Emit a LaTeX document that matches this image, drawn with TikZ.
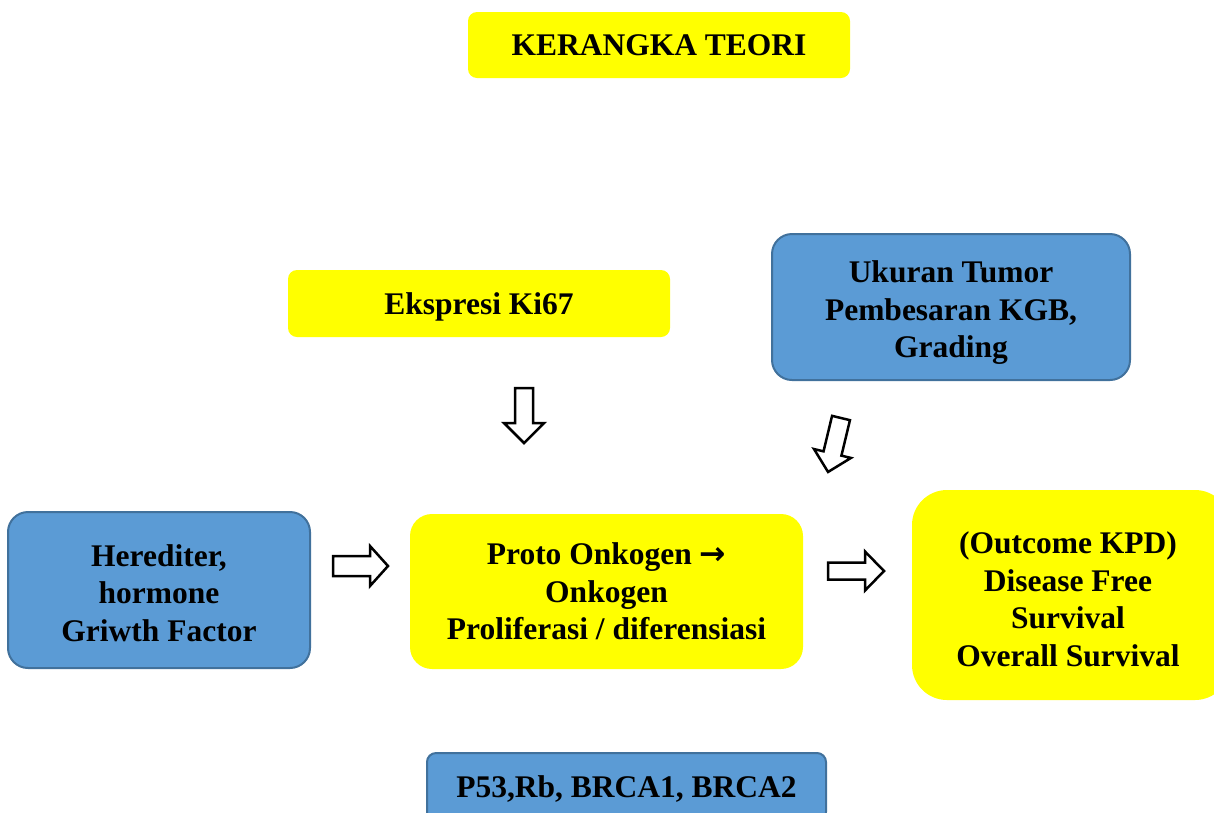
\documentclass[tikz,border=0pt]{standalone}
\usepackage{fontspec}
\setmainfont{Liberation Serif}
\newfontfamily\arrowfont{DejaVu Sans}
\definecolor{ybox}{HTML}{FFFF00}
\definecolor{bbox}{HTML}{5B9BD5}
\definecolor{bline}{HTML}{41719C}
\tikzset{
  txt/.style={font=\fontsize{31.5}{37.5}\selectfont\bfseries, align=center, inner sep=0pt},
  ybx/.style={txt, fill=ybox, draw=none},
  bbx/.style={txt, fill=bbox, draw=bline, line width=2pt},
  lowtxt/.style={text depth=0pt},
  pics/barrow/.style n args={4}{code={
    \draw[line width=2.5pt, line join=miter, fill=white]
      (0pt,-#1pt) -- ({#4pt-#3pt},-#1pt) -- ({#4pt-#3pt},-#2pt) -- (#4pt,0pt)
      -- ({#4pt-#3pt},#2pt) -- ({#4pt-#3pt},#1pt) -- (0pt,#1pt) -- cycle;
  }}
}
\begin{document}
\begin{tikzpicture}[x=1pt,y=-1pt]
\useasboundingbox (0,0) rectangle (1214,812);
\clip (0,0) rectangle (1214,812);
\node[ybx, lowtxt, rounded corners=9pt, minimum width=382pt, minimum height=66pt] (title) at (659,45) {KERANGKA TEORI};
\node[ybx, lowtxt, rounded corners=9pt, minimum width=382pt, minimum height=67pt] (ki67) at (479,303.5) {Ekspresi Ki67};
\node[bbx, rounded corners=20pt, minimum width=358pt, minimum height=146pt,
  label={[txt, yshift=-6pt]center:{Ukuran Tumor\\Pembesaran KGB,\\Grading}}] (tumor) at (951,307) {};
\node[bbx, rounded corners=20pt, minimum width=302pt, minimum height=156pt,
  label={[txt, yshift=-3pt]center:{Herediter,\\hormone\\Griwth Factor}}] (hered) at (159,590) {};
\node[ybx, rounded corners=22pt, minimum width=393pt, minimum height=155pt] (proto) at (606.5,591.5) {Proto Onkogen {\arrowfont\bfseries →}\\Onkogen\\Proliferasi / diferensiasi};
\node[ybx, rounded corners=35pt, minimum width=318pt, minimum height=210pt,
  label={[txt, xshift=-3pt, yshift=-4pt]center:{(Outcome KPD)\\Disease Free\\Survival\\Overall Survival}}] (outcome) at (1071,595) {};
\node[bbx, lowtxt, rounded corners=9pt, minimum width=399pt, minimum height=68pt] (p53) at (626.5,787) {P53,Rb, BRCA1, BRCA2};
\pic[rotate=-90] at (524,388) {barrow={9}{20}{20}{55}};
\pic at (333,566) {barrow={10}{20}{18}{55}};
\pic at (828,571) {barrow={8.5}{19.5}{19}{56}};
\pic[rotate=-103.5] at (841,418) {barrow={9.2}{19}{19}{55.5}};
\end{tikzpicture}
\end{document}
